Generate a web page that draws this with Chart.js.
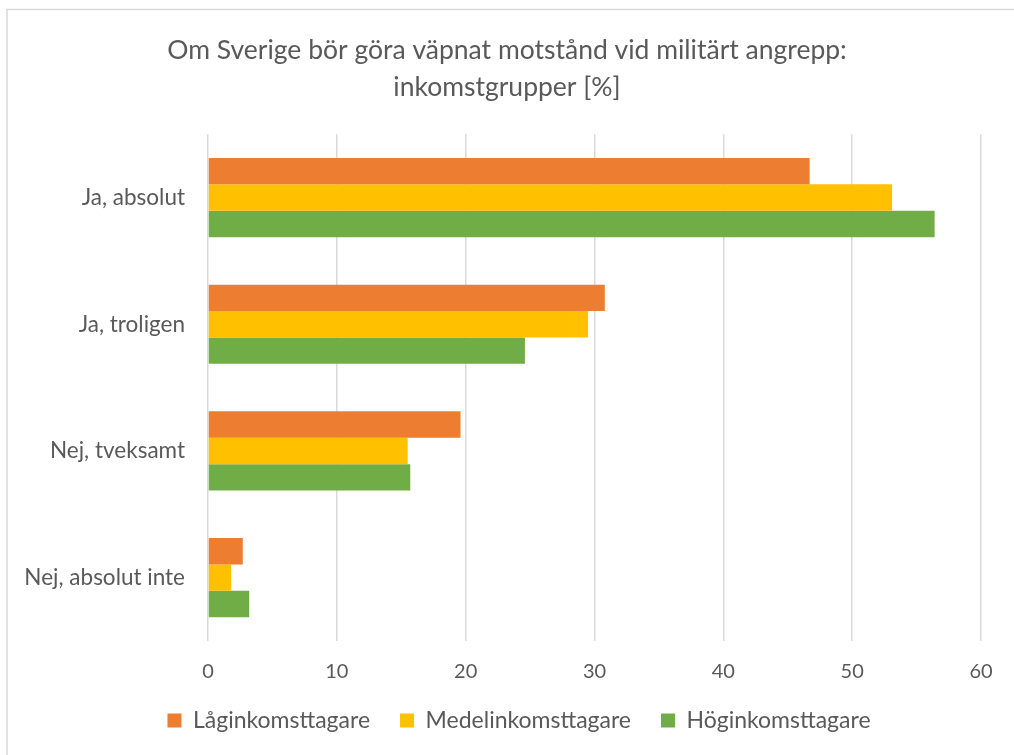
<!DOCTYPE html>
<html>
<head>
<meta charset="utf-8">
<script src="https://cdn.jsdelivr.net/npm/chart.js@4/dist/chart.umd.min.js"></script>
<style>
  html, body { margin: 0; padding: 0; background: #fff; }
  #wrap { width: 1014px; height: 755px; position: relative; }
</style>
</head>
<body>
<div id="wrap"><canvas id="c" width="1014" height="755"></canvas></div>
<script>
const categories = ["Ja, absolut", "Ja, troligen", "Nej, tveksamt", "Nej, absolut inte"];
const seriesNames = ["Låginkomsttagare", "Medelinkomsttagare", "Höginkomsttagare"];
const lowIncome = [46.7, 30.8, 19.6, 2.7];
const midIncome = [53.1, 29.5, 15.5, 1.8];
const highIncome = [56.4, 24.6, 15.7, 3.2];
const xTicks = [0, 10, 20, 30, 40, 50, 60];
const titleLines = ["Om Sverige bör göra väpnat motstånd vid militärt angrepp:", "inkomstgrupper [%]"];

const colors = ["#ED7D31", "#FFC000", "#70AD47"];
const FONT = "Lato, 'Open Sans', sans-serif";
const TXT = "#595959";

const frame = {
  id: 'frame',
  afterLayout(chart) {
    // center title on the full canvas, shift legend like the original
    chart.titleBlock.left = 0;
    chart.titleBlock.right = chart.width;
    chart.legend.left = 57;
    chart.legend.right = 981;
    // let x tick labels extend below the (short) axis box without clipping
    chart.scales.x.bottom += 30;
  },
  beforeDraw(chart) {
    const ctx = chart.ctx;
    ctx.save();
    ctx.fillStyle = '#fff';
    ctx.fillRect(0, 0, chart.width, chart.height);
    ctx.strokeStyle = '#d9d9d9';
    ctx.lineWidth = 1.5;
    ctx.beginPath();
    ctx.moveTo(7, chart.height + 2);
    ctx.lineTo(7, 9.5);
    ctx.lineTo(chart.width + 2, 9.5);
    ctx.stroke();
    ctx.restore();
  }
};

new Chart(document.getElementById('c'), {
  type: 'bar',
  data: {
    labels: categories,
    datasets: [
      { label: seriesNames[0], data: lowIncome, backgroundColor: colors[0] },
      { label: seriesNames[1], data: midIncome, backgroundColor: colors[1] },
      { label: seriesNames[2], data: highIncome, backgroundColor: colors[2] }
    ]
  },
  options: {
    indexAxis: 'y',
    responsive: false,
    animation: false,
    devicePixelRatio: 1,
    datasets: { bar: { categoryPercentage: 0.625, barPercentage: 1.0, borderWidth: 0 } },
    layout: { padding: { top: 12, left: 10, right: 33, bottom: 13 } },
    plugins: {
      title: {
        display: true,
        text: titleLines,
        color: TXT,
        font: { family: FONT, size: 26.5, weight: 'normal', lineHeight: 1.4 },
        padding: { top: 19.5, bottom: 28.5 }
      },
      legend: {
        position: 'bottom',
        labels: {
          color: TXT,
          font: { family: FONT, size: 23 },
          boxWidth: 14,
          boxHeight: 14,
          padding: 30,
          generateLabels(chart) {
            return chart.data.datasets.map((d, i) => ({
              text: d.label, fillStyle: d.backgroundColor, strokeStyle: d.backgroundColor,
              lineWidth: 0, datasetIndex: i, fontColor: TXT
            }));
          }
        }
      },
      tooltip: { enabled: false }
    },
    scales: {
      x: {
        min: 0, max: 60,
        afterBuildTicks(scale) { scale.ticks = xTicks.map(v => ({ value: v })); },
        afterFit(scale) { scale.height = 38; },
        ticks: { color: TXT, font: { family: FONT, size: 20 }, padding: 19 },
        grid: { color: '#d9d9d9', lineWidth: 1.5, drawTicks: false },
        border: { display: false }
      },
      y: {
        afterFit(scale) { scale.width = 198; },
        ticks: { color: TXT, font: { family: FONT, size: 22.5 }, padding: 23 },
        grid: { display: false, drawTicks: false },
        border: { display: false }
      }
    }
  },
  plugins: [frame]
});
</script>
</body>
</html>
